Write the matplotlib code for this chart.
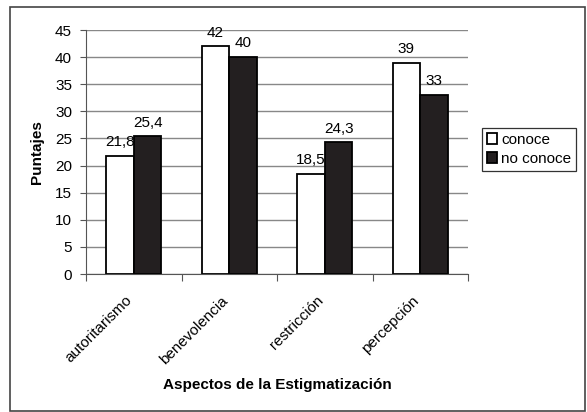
import matplotlib.pyplot as plt
import numpy as np
from matplotlib.patches import Rectangle

plt.rcParams["font.family"] = ["Liberation Sans", "DejaVu Sans"]

CATEGORIES = ["autoritarismo", "benevolencia", "restricción", "percepción"]
CONOCE = [21.8, 42, 18.5, 39]
NO_CONOCE = [25.4, 40, 24.3, 33]
CONOCE_LABELS = ["21,8", "42", "18,5", "39"]
NO_CONOCE_LABELS = ["25,4", "40", "24,3", "33"]
Y_TICKS = [0, 5, 10, 15, 20, 25, 30, 35, 40, 45]

W, H = 587, 412
FS = 11
fig = plt.figure(figsize=(W / 100, H / 100), dpi=100)

# outer frame like the Excel chart area
fig.patches.append(Rectangle((10 / W, 1 / H), (W - 12) / W, (H - 8) / H,
                             transform=fig.transFigure, fill=False,
                             edgecolor="#444444", linewidth=1.2))

ax = fig.add_axes([86 / W, (H - 274) / H, 382 / W, 244 / H])

x = np.arange(len(CATEGORIES))
bar_w = 0.29
ax.bar(x - bar_w / 2, CONOCE, bar_w, color="white", edgecolor="black",
       linewidth=1.3, label="conoce", zorder=2)
ax.bar(x + bar_w / 2, NO_CONOCE, bar_w, color="#231f20", edgecolor="black",
       linewidth=1.3, label="no conoce", zorder=4)

# labels of the white series sit under the black bars, as in the original
for i in range(len(CATEGORIES)):
    ax.annotate(CONOCE_LABELS[i], (x[i] - bar_w / 2, CONOCE[i]),
                xytext=(0, 7), textcoords="offset points",
                ha="center", va="baseline", fontsize=FS, zorder=3)
    ax.annotate(NO_CONOCE_LABELS[i], (x[i] + bar_w / 2, NO_CONOCE[i]),
                xytext=(0, 7), textcoords="offset points",
                ha="center", va="baseline", fontsize=FS, zorder=5)

ax.set_xlim(-0.5, len(CATEGORIES) - 0.5)
ax.set_ylim(0, 45)
ax.set_yticks(Y_TICKS)
ax.set_yticklabels([str(t) for t in Y_TICKS], fontsize=FS)
ax.yaxis.grid(True, color="#888888", linewidth=1.0, zorder=0)
ax.set_axisbelow(True)

# category boundary ticks; the rotated names end a bit left of the centre
ax.set_xticks(np.arange(-0.5, len(CATEGORIES), 1.0))
ax.set_xticklabels([])
ax.set_xticks(x - 0.09, minor=True)
ax.set_xticklabels(CATEGORIES, minor=True, rotation=45, ha="right",
                   rotation_mode="anchor", fontsize=FS)
ax.tick_params(axis="x", which="minor", length=0, pad=14)
ax.tick_params(axis="x", which="major", length=5, direction="out",
               color="#555555")
ax.tick_params(axis="y", length=4, direction="out", color="#555555", pad=6)

for side in ["top", "right"]:
    ax.spines[side].set_visible(False)
for side in ["left", "bottom"]:
    ax.spines[side].set_color("#555555")

ax.set_ylabel("Puntajes", fontsize=FS, fontweight="bold", labelpad=8)
ax.set_xlabel("Aspectos de la Estigmatización", fontsize=FS,
              fontweight="bold", labelpad=8)

leg = ax.legend(loc="upper left", bbox_to_anchor=(482 / W, (H - 128) / H),
                bbox_transform=fig.transFigure, fontsize=FS, frameon=True,
                fancybox=False, edgecolor="black", handlelength=0.7,
                handleheight=0.7, handletextpad=0.25, borderpad=0.3,
                borderaxespad=0, labelspacing=0.35)
leg.get_frame().set_linewidth(0.9)

fig.savefig("out.png", dpi=100)
